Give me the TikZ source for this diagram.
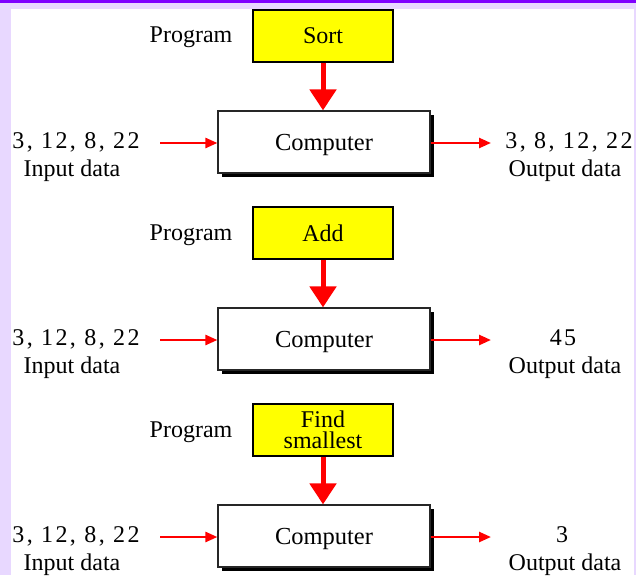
\documentclass[tikz,border=0pt]{standalone}
\usepackage{fontspec}
\setmainfont{Liberation Serif}
\usetikzlibrary{arrows.meta,shadows}
\definecolor{lav}{RGB}{232,216,255}
\definecolor{purp}{RGB}{128,0,255}
\definecolor{yel}{RGB}{255,255,0}
\newfontfamily\numfont[LetterSpace=10]{Liberation Serif}
\begin{document}
\begin{tikzpicture}[x=1pt,y=-1pt,
  font=\fontsize{24}{20}\selectfont,
  progbox/.style={draw=black,line width=1.5pt,fill=yel,minimum width=140pt,minimum height=52pt,inner sep=0pt,align=center},
  compbox/.style={draw=black!85,line width=1.2pt,fill=white,minimum width=212pt,minimum height=62pt,inner sep=0pt,
    font=\fontsize{24.5}{20}\selectfont,text height=22pt,text depth=6pt,
    drop shadow={shadow xshift=4pt,shadow yshift=-4pt,opacity=1,fill=black}},
  bigarrow/.style={red,line width=5pt,-{Triangle[width=26pt,length=21pt]}},
  smallarrow/.style={red,line width=2.5pt,-{Triangle[width=10pt,length=12pt]}},
  lbl/.style={anchor=base,inner sep=0pt},
  nums/.style={anchor=base,inner sep=0pt,font=\fontsize{24}{20}\numfont}]
\useasboundingbox (0,0) rectangle (636,575);
\fill[lav] (0,0) rectangle (636,575);
\fill[white] (11,9) rectangle (634,575);
\fill[purp] (0,0) rectangle (636,3);

% ---------- block 1 ----------
\node[lbl] (prog1) at (191,43) {Program};
\node[progbox] (sort) at (323,36) {Sort};
\node[compbox] (comp1) at (324,142) {Computer};
\draw[bigarrow] (sort.south) -- (comp1.north -| sort.south);
\node[nums] (in1) at (76,148) {3, 12, 8, 22};
\node[lbl] (inl1) at (72,176) {Input data};
\coordinate (is1) at (160,143);
\draw[smallarrow] (is1) -- (is1 -| comp1.west);
\node[nums] (out1) at (569,148) {3, 8, 12, 22};
\node[lbl] (outl1) at (565,176) {Output data};
\coordinate (oe1) at (491,143);
\draw[smallarrow] (oe1 -| comp1.east) -- (oe1);

% ---------- block 2 ----------
\node[lbl] (prog2) at (191,240) {Program};
\node[progbox] (add) at (323,233) {Add};
\node[compbox] (comp2) at (324,339) {Computer};
\draw[bigarrow] (add.south) -- (comp2.north -| add.south);
\node[nums] (in2) at (76,345) {3, 12, 8, 22};
\node[lbl] (inl2) at (72,373) {Input data};
\coordinate (is2) at (160,340);
\draw[smallarrow] (is2) -- (is2 -| comp2.west);
\node[nums] (out2) at (563,345) {45};
\node[lbl] (outl2) at (565,373) {Output data};
\coordinate (oe2) at (491,340);
\draw[smallarrow] (oe2 -| comp2.east) -- (oe2);

% ---------- block 3 ----------
\node[lbl] (prog3) at (191,437) {Program};
\node[progbox,font=\fontsize{24}{21}\selectfont] (find) at (323,430) {Find\\smallest};
\node[compbox] (comp3) at (324,536) {Computer};
\draw[bigarrow] (find.south) -- (comp3.north -| find.south);
\node[nums] (in3) at (76,542) {3, 12, 8, 22};
\node[lbl] (inl3) at (72,570) {Input data};
\coordinate (is3) at (160,537);
\draw[smallarrow] (is3) -- (is3 -| comp3.west);
\node[nums] (out3) at (562,542) {3};
\node[lbl] (outl3) at (565,570) {Output data};
\coordinate (oe3) at (491,537);
\draw[smallarrow] (oe3 -| comp3.east) -- (oe3);
\end{tikzpicture}
\end{document}
